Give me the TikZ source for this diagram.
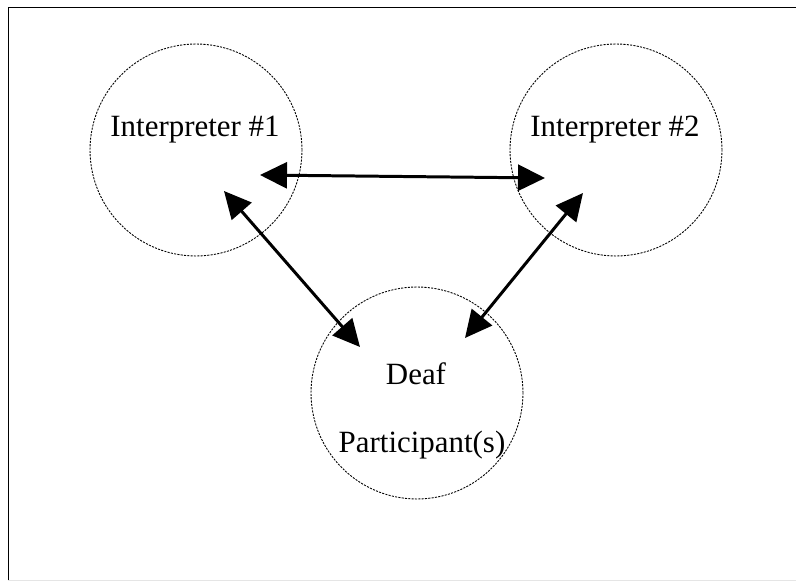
\documentclass[tikz,border=0pt]{standalone}
\usepackage{fontspec}
\setmainfont{Liberation Serif}
\usetikzlibrary{arrows.meta}
\begin{document}
\begin{tikzpicture}
			[x=0.02cm,y=-0.02cm,
			member/.style={circle,draw,line width=0.5pt,dash pattern=on 1.2pt off 0.7pt,minimum size=4.24cm,inner sep=0pt},
			tag/.style={anchor=base,inner sep=0pt,font=\fontsize{17.6}{21}\selectfont},
			link/.style={line width=1.7pt,{Triangle[length=0.54cm,width=0.52cm]}-{Triangle[length=0.54cm,width=0.52cm]}},
			frame/.style={line width=1.1pt}]
		\useasboundingbox (0,0) rectangle (796,581);
		% outer box, only its left and top edges fall on the page
		\draw[frame] (8.5,590) |- (805,7.5);
		\draw[gray!20,line width=0.4pt] (8.5,580.5) -- (805,580.5);
		% the three parties
		\path node (int1) at (196,150) [member] {}
			  node (int2) at (616,150) [member] {}
			  node (deaf) at (417,393) [member] {};
		\path node (int1 tag) at (195,137) [tag] {Interpreter \#1}
			  node (int2 tag) at (615,137) [tag] {Interpreter \#2}
			  node (deaf tag) at (416,385) [tag] {Deaf}
			  node (deaf more) at (422,453) [tag] {Participant(s)};
		% arrow ends
		\coordinate (i1e) at (260,175);
		\coordinate (i2w) at (545,178);
		\coordinate (i1s) at (224,191);
		\coordinate (dnw) at (360,347);
		\coordinate (i2s) at (583,193);
		\coordinate (dne) at (465,338);
		\draw[link] (i1e) -- (i2w);
		\draw[link] (i1s) -- (dnw);
		\draw[link] (i2s) -- (dne);
\end{tikzpicture}
\end{document}
